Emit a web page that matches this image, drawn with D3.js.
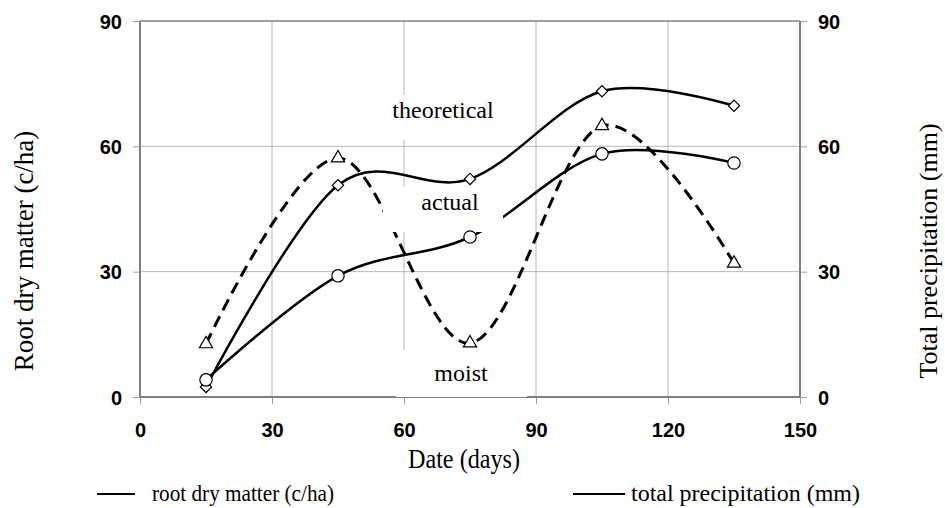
<!DOCTYPE html>
<html>
<head>
<meta charset="utf-8">
<script src="https://cdn.jsdelivr.net/npm/d3@7"></script>
<style>
  body { margin: 0; background: #fff; }
  .tick-label { font-family: "Liberation Sans", Arial, sans-serif; font-weight: bold; font-size: 20px; fill: #000; }
  .serif { font-family: "Liberation Serif", "Times New Roman", serif; fill: #000; }
</style>
</head>
<body>
<div id="chart"></div>
<script>
// sampling dates and measured values
var days = [15, 45, 75, 105, 135];
var theoretical = [2.4, 50.7, 52.2, 73.2, 69.7];
var actual = [4.1, 29.0, 38.3, 58.2, 56.0];
var precipitation = [12.7, 57.2, 12.9, 64.9, 32.0];

var xTicks = [0, 30, 60, 90, 120, 150];
var yTicks = [0, 30, 60, 90];

var width = 945, height = 508;
var margin = {top: 21, right: 145, bottom: 111, left: 140};

var svg = d3.select('#chart')
    .append('svg')
    .attr('width', width)
    .attr('height', height);

var x = d3.scaleLinear().domain([0, 150]).range([margin.left, width - margin.right]);
var y = d3.scaleLinear().domain([0, 90]).range([height - margin.bottom, margin.top]);
var y2 = d3.scaleLinear().domain([0, 90]).range([height - margin.bottom, margin.top]);

// grid
svg.append('g')
    .selectAll('line')
    .data(xTicks.slice(1, -1))
    .enter().append('line')
    .attr('x1', d => x(d)).attr('x2', d => x(d))
    .attr('y1', y(90)).attr('y2', y(0))
    .attr('stroke', '#b8b8b8').attr('stroke-width', 1);

svg.append('g')
    .selectAll('line')
    .data(yTicks.slice(1, -1))
    .enter().append('line')
    .attr('x1', x(0)).attr('x2', x(150))
    .attr('y1', d => y(d)).attr('y2', d => y(d))
    .attr('stroke', '#b8b8b8').attr('stroke-width', 1);

// top frame
svg.append('line')
    .attr('x1', x(0)).attr('x2', x(150))
    .attr('y1', y(90)).attr('y2', y(90))
    .attr('stroke', '#808080').attr('stroke-width', 1.5);

// axes
var xAxis = d3.axisBottom(x).tickValues(xTicks).tickSize(7).tickFormat(d3.format('d'));
var yAxis = d3.axisLeft(y).tickValues(yTicks).tickSize(7).tickFormat(d3.format('d'));
var yAxis2 = d3.axisRight(y2).tickValues(yTicks).tickSize(7).tickFormat(d3.format('d'));

function styleAxis(g){
    g.select('.domain').remove();
    g.selectAll('.tick line').attr('stroke', '#a0a0a0').attr('stroke-width', 1);
    g.selectAll('.tick text').attr('class', 'tick-label');
}

svg.append('g')
    .attr('transform', 'translate(0,' + y(0) + ')')
    .call(xAxis)
    .call(styleAxis)
    .selectAll('.tick text').attr('dy', null).attr('y', 40);

svg.append('g')
    .attr('transform', 'translate(' + x(0) + ',0)')
    .call(yAxis)
    .call(styleAxis)
    .selectAll('.tick text').attr('x', -18).attr('dy', '0.35em');

svg.append('g')
    .attr('transform', 'translate(' + x(150) + ',0)')
    .call(yAxis2)
    .call(styleAxis)
    .selectAll('.tick text').attr('x', 18).attr('dy', '0.35em');

// axis lines
svg.append('line')
    .attr('x1', x(0)).attr('x2', x(150))
    .attr('y1', y(0)).attr('y2', y(0))
    .attr('stroke', '#808080').attr('stroke-width', 2);
svg.append('line')
    .attr('x1', x(0)).attr('x2', x(0))
    .attr('y1', y(0)).attr('y2', y(90))
    .attr('stroke', '#808080').attr('stroke-width', 2);
svg.append('line')
    .attr('x1', x(150)).attr('x2', x(150))
    .attr('y1', y(0)).attr('y2', y(90))
    .attr('stroke', '#808080').attr('stroke-width', 2);

// curves
var smooth = d3.curveCardinal.tension(0);
function lineFor(scale){
    return d3.line()
        .x(function(d){ return x(d[0]); })
        .y(function(d){ return scale(d[1]); })
        .curve(smooth);
}

svg.append('path')
    .datum(d3.zip(days, precipitation))
    .attr('d', lineFor(y2))
    .attr('fill', 'none')
    .attr('stroke', '#000')
    .attr('stroke-width', 3)
    .attr('stroke-dasharray', '12,7');

svg.append('path')
    .datum(d3.zip(days, theoretical))
    .attr('d', lineFor(y))
    .attr('fill', 'none')
    .attr('stroke', '#000')
    .attr('stroke-width', 2.5);

svg.append('path')
    .datum(d3.zip(days, actual))
    .attr('d', lineFor(y))
    .attr('fill', 'none')
    .attr('stroke', '#000')
    .attr('stroke-width', 2.5);

// markers
function markers(values, scale, type, size, rotate){
    svg.append('g')
        .selectAll('path')
        .data(d3.zip(days, values))
        .enter().append('path')
        .attr('d', d3.symbol().type(type).size(size))
        .attr('transform', function(d){
            return 'translate(' + x(d[0]) + ',' + scale(d[1]) + ') rotate(' + rotate + ')';
        })
        .attr('fill', '#fff')
        .attr('stroke', '#000')
        .attr('stroke-width', 1.2);
}
markers(precipitation, y2, d3.symbolTriangle, 75, 0);

// in-plot labels on white boxes (drawn before the root markers so these stay whole)
var labels = [
    {text: 'theoretical', cx: 443, bx: 383, bw: 120, by: 95, bh: 45, base: 118},
    {text: 'actual', cx: 450, bx: 383, bw: 120, by: 187, bh: 45, base: 210},
    {text: 'moist', cx: 461, bx: 396, bw: 131, by: 350, bh: 47, base: 381}
];
labels.forEach(function(l){
    svg.append('rect')
        .attr('x', l.bx).attr('y', l.by)
        .attr('width', l.bw).attr('height', l.bh)
        .attr('fill', '#fff');
    svg.append('text')
        .attr('class', 'serif')
        .attr('x', l.cx).attr('y', l.base)
        .attr('text-anchor', 'middle')
        .style('font-size', '24px')
        .text(l.text);
});

markers(theoretical, y, d3.symbolSquare, 64, 45);
markers(actual, y, d3.symbolCircle, 120, 0);

// axis titles
svg.append('text')
    .attr('class', 'serif')
    .attr('transform', 'translate(33,251) rotate(-90)')
    .attr('text-anchor', 'middle')
    .style('font-size', '27px')
    .text('Root dry matter (c/ha)');

svg.append('text')
    .attr('class', 'serif')
    .attr('transform', 'translate(937,251) rotate(-90)')
    .attr('text-anchor', 'middle')
    .style('font-size', '26px')
    .text('Total precipitation (mm)');

svg.append('text')
    .attr('class', 'serif')
    .attr('x', 464).attr('y', 468)
    .attr('text-anchor', 'middle')
    .attr('textLength', 112)
    .attr('lengthAdjust', 'spacingAndGlyphs')
    .style('font-size', '27px')
    .text('Date (days)');

// legend
var legend = [
    {label: 'root dry matter (c/ha)', x1: 97, x2: 135, tx: 152, len: 182},
    {label: 'total precipitation (mm)', x1: 573, x2: 625, tx: 631, len: 229}
];
legend.forEach(function(l){
    svg.append('line')
        .attr('x1', l.x1).attr('x2', l.x2)
        .attr('y1', 494).attr('y2', 494)
        .attr('stroke', '#000').attr('stroke-width', 2);
    svg.append('text')
        .attr('class', 'serif')
        .attr('x', l.tx).attr('y', 501)
        .attr('textLength', l.len)
        .attr('lengthAdjust', 'spacingAndGlyphs')
        .style('font-size', '24px')
        .text(l.label);
});
</script>
</body>
</html>
